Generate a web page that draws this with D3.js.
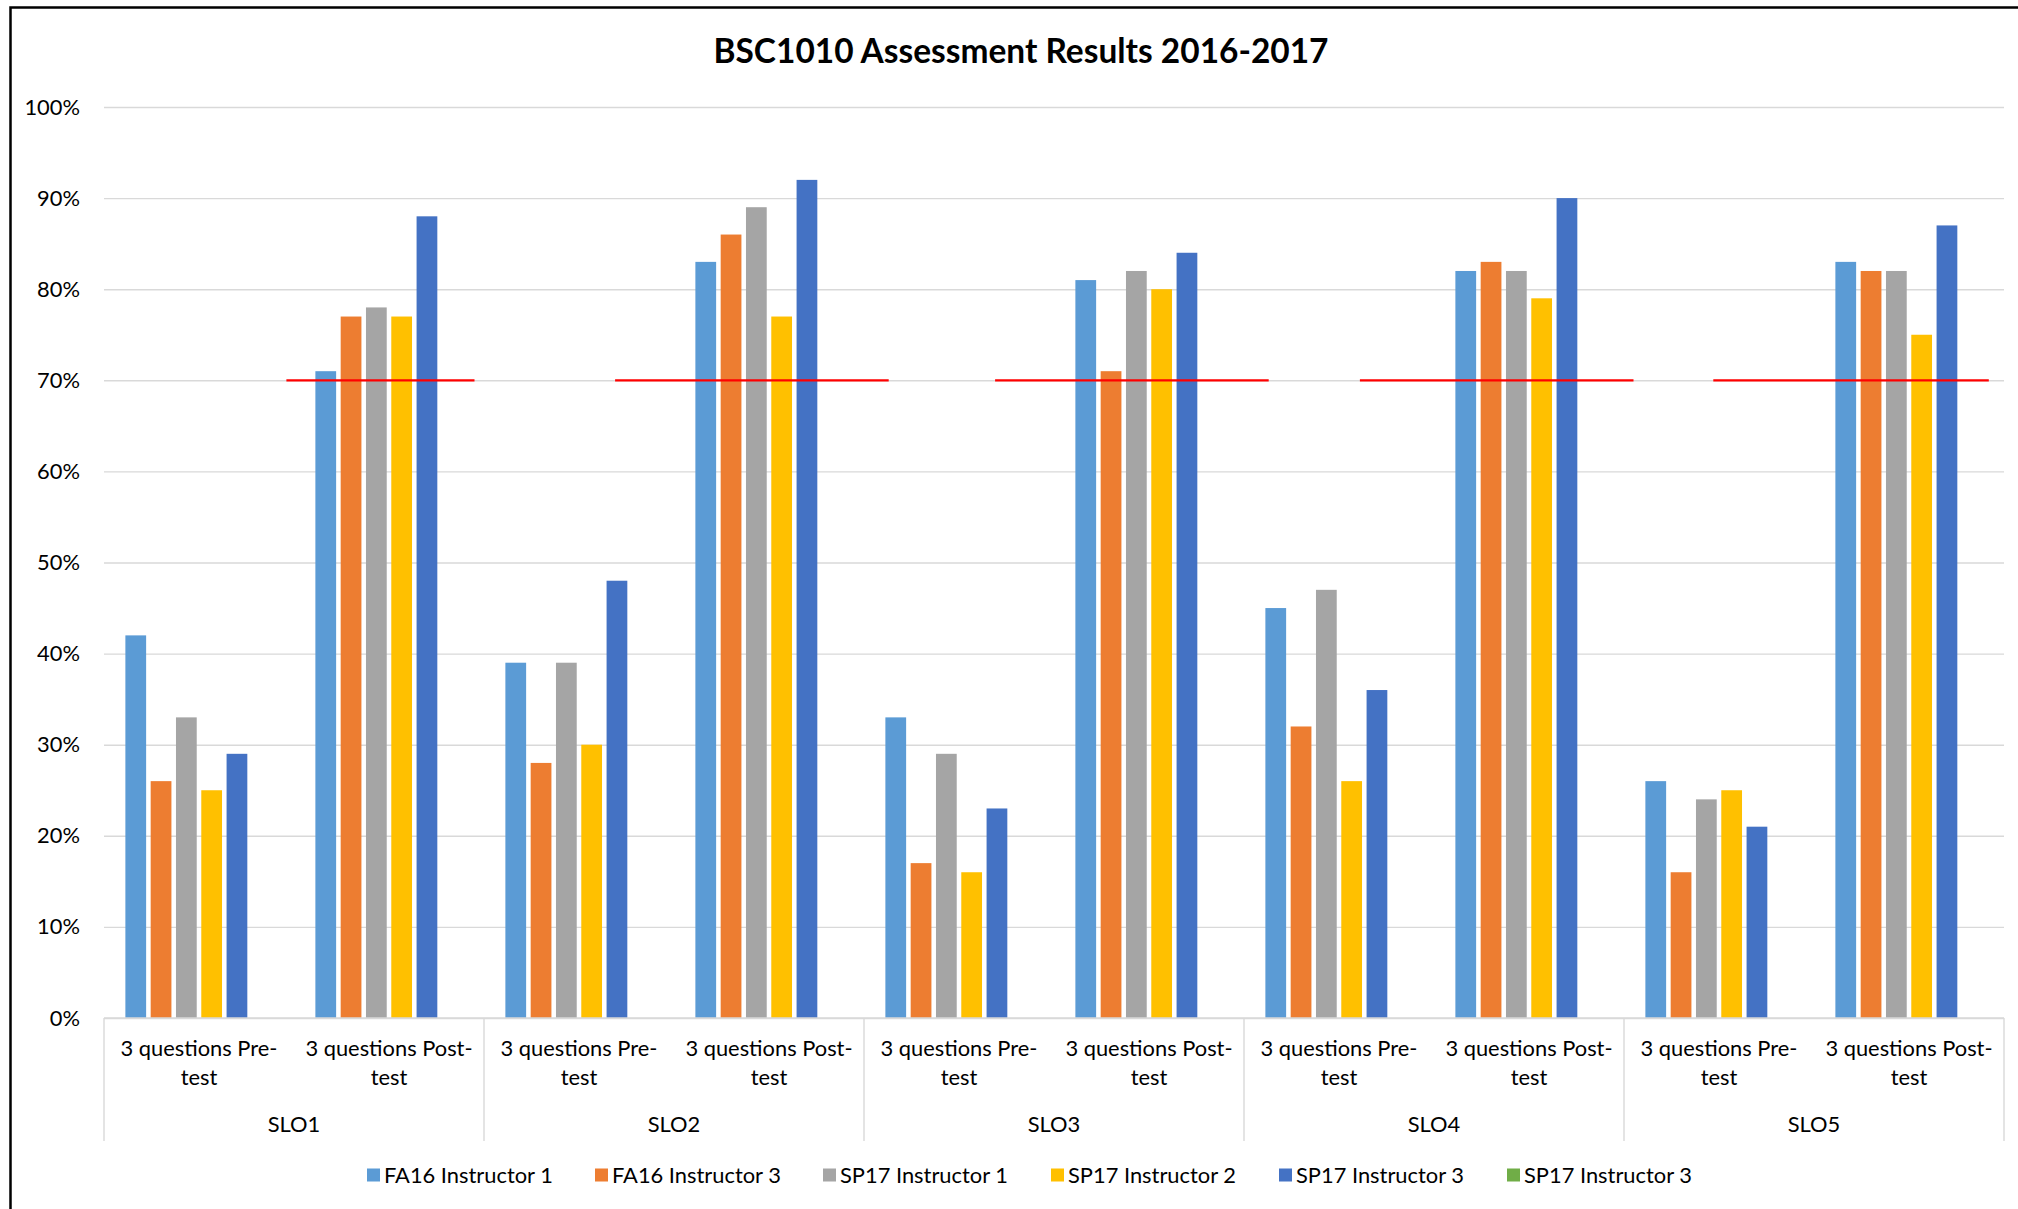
<!DOCTYPE html>
<html><head><meta charset="utf-8">
<script src="https://cdn.jsdelivr.net/npm/d3@7"></script>
<style>body{margin:0;background:#fff;overflow:hidden}</style>
</head><body><svg id="chart" width="2018" height="1209"></svg>
<script>
// ---------- data ----------
const slos = ["SLO1", "SLO2", "SLO3", "SLO4", "SLO5"];
const testLabels = [["3 questions Pre-", "test"], ["3 questions Post-", "test"]];
const seriesNames = ["FA16 Instructor 1", "FA16 Instructor 3", "SP17 Instructor 1", "SP17 Instructor 2", "SP17 Instructor 3", "SP17 Instructor 3"];
const seriesColors = ["#5B9BD5", "#ED7D31", "#A5A5A5", "#FFC000", "#4472C4", "#70AD47"];
// values in %, order: SLO1 pre, SLO1 post, SLO2 pre, SLO2 post, ... SLO5 post
const fa16Instructor1 = [42, 71, 39, 83, 33, 81, 45, 82, 26, 83];
const fa16Instructor3 = [26, 77, 28, 86, 17, 71, 32, 83, 16, 82];
const sp17Instructor1 = [33, 78, 39, 89, 29, 82, 47, 82, 24, 82];
const sp17Instructor2 = [25, 77, 30, 77, 16, 80, 26, 79, 25, 75];
const sp17Instructor3 = [29, 88, 48, 92, 23, 84, 36, 90, 21, 87];
const sp17Instructor3b = [null, null, null, null, null, null, null, null, null, null];
const seriesValues = [fa16Instructor1, fa16Instructor3, sp17Instructor1, sp17Instructor2, sp17Instructor3, sp17Instructor3b];
const yTicks = [0, 10, 20, 30, 40, 50, 60, 70, 80, 90, 100];
const targetValue = 70;
// target line extents, in sub-category units (0..10)
const targetStart = [0.96, 2.69, 4.69, 6.61, 8.47];
const targetEnd = [1.95, 4.13, 6.13, 8.05, 9.92];
const title = "BSC1010 Assessment Results 2016-2017";

// ---------- layout ----------
const svg = d3.select("#chart");
const W = 2018, H = 1209;
const L = 104, R = 2004, T = 107, B = 1018;
const FONT = "Lato, 'Open Sans', sans-serif";

// fit font sizes to the reference's measured text widths
function fitSize(text, targetW, weight) {
  const t = svg.append("text").attr("font-family", FONT).attr("font-weight", weight || "normal")
    .attr("font-size", 100).text(text);
  const w = t.node().getComputedTextLength();
  t.remove();
  return 100 * targetW / w;
}
const labelSize = fitSize("3 questions Pre-", 157);
const titleSize = fitSize(title, 615, "bold");

svg.append("rect").attr("width", W).attr("height", H).attr("fill", "#fff");
// outer border (left & top visible)
svg.append("path").attr("d", `M10.5,${H} V7.5 H${W}`).attr("fill", "none").attr("stroke", "#000").attr("stroke-width", 2.5);

const subIdx = d3.range(10);
const x0 = d3.scaleBand().domain(subIdx).range([L, R]).padding(0);
const xs = d3.scaleBand().domain(d3.range(6)).range([0, x0.bandwidth()]).paddingInner(0.18).paddingOuter(0.845);
const xc = d3.scaleLinear().domain([0, 10]).range([L, R]);
const xg = d3.scaleBand().domain(slos).range([L, R]).padding(0);
const y = d3.scaleLinear().domain([0, 100]).range([B, T]);

// gridlines + y labels
const yAxis = svg.append("g").attr("transform", `translate(${L},0)`)
  .call(d3.axisLeft(y).tickValues(yTicks).tickSize(-(R - L)).tickPadding(24).tickFormat(d => d + "%"));
yAxis.select(".domain").remove();
yAxis.selectAll("line").attr("stroke", "#D9D9D9").attr("stroke-width", 1.4);
yAxis.selectAll("text").attr("font-family", FONT).attr("font-size", labelSize).attr("fill", "#000");

// bars
const g = svg.append("g");
seriesValues.forEach((vals, si) => {
  g.selectAll(null).data(vals.map((v, i) => ({ v, i })).filter(d => d.v != null)).enter()
    .append("rect")
    .attr("x", d => x0(d.i) + xs(si))
    .attr("width", xs.bandwidth())
    .attr("y", d => y(d.v))
    .attr("height", d => y(0) - y(d.v))
    .attr("fill", seriesColors[si]);
});

// category axis line and dividers
svg.append("line").attr("x1", L).attr("x2", R).attr("y1", B).attr("y2", B).attr("stroke", "#D9D9D9").attr("stroke-width", 1.4);
const bounds = slos.map(s => xg(s)).concat([R]);
svg.selectAll(null).data(bounds).enter().append("line")
  .attr("x1", d => d).attr("x2", d => d).attr("y1", B).attr("y2", 1141)
  .attr("stroke", "#D9D9D9").attr("stroke-width", 1.4);

// sub-category labels
subIdx.forEach(i => {
  const lines = testLabels[i % 2];
  const t = svg.append("text").attr("x", x0(i) + x0.bandwidth() / 2).attr("y", 1056)
    .attr("text-anchor", "middle").attr("font-family", FONT).attr("font-size", labelSize).attr("fill", "#000");
  lines.forEach((ln, k) => t.append("tspan").attr("x", x0(i) + x0.bandwidth() / 2).attr("dy", k ? 29 : 0).text(ln));
});
// group labels
svg.selectAll(null).data(slos).enter().append("text")
  .attr("x", d => xg(d) + xg.bandwidth() / 2).attr("y", 1132)
  .attr("text-anchor", "middle").attr("font-family", FONT).attr("font-size", labelSize).attr("fill", "#000")
  .text(d => d);

// target lines
svg.selectAll(null).data(targetStart).enter().append("line")
  .attr("x1", d => xc(d)).attr("x2", (d, i) => xc(targetEnd[i]))
  .attr("y1", y(targetValue)).attr("y2", y(targetValue))
  .attr("stroke", "#FF0000").attr("stroke-width", 2.2);

// title
svg.append("text").attr("x", 1021).attr("y", 63).attr("text-anchor", "middle")
  .attr("font-family", FONT).attr("font-weight", "bold").attr("font-size", titleSize).attr("fill", "#000").text(title);

// legend
const legStep = 228, legX = 367, legY = 1175;
const leg = svg.append("g");
seriesNames.forEach((n, i) => {
  const gx = legX + i * legStep;
  leg.append("rect").attr("x", gx).attr("y", legY - 6.5).attr("width", 13).attr("height", 13).attr("fill", seriesColors[i]);
  leg.append("text").attr("x", gx + 17).attr("y", legY + 8).attr("font-family", FONT).attr("font-size", labelSize)
    .attr("fill", "#000").text(n);
});
</script></body></html>
